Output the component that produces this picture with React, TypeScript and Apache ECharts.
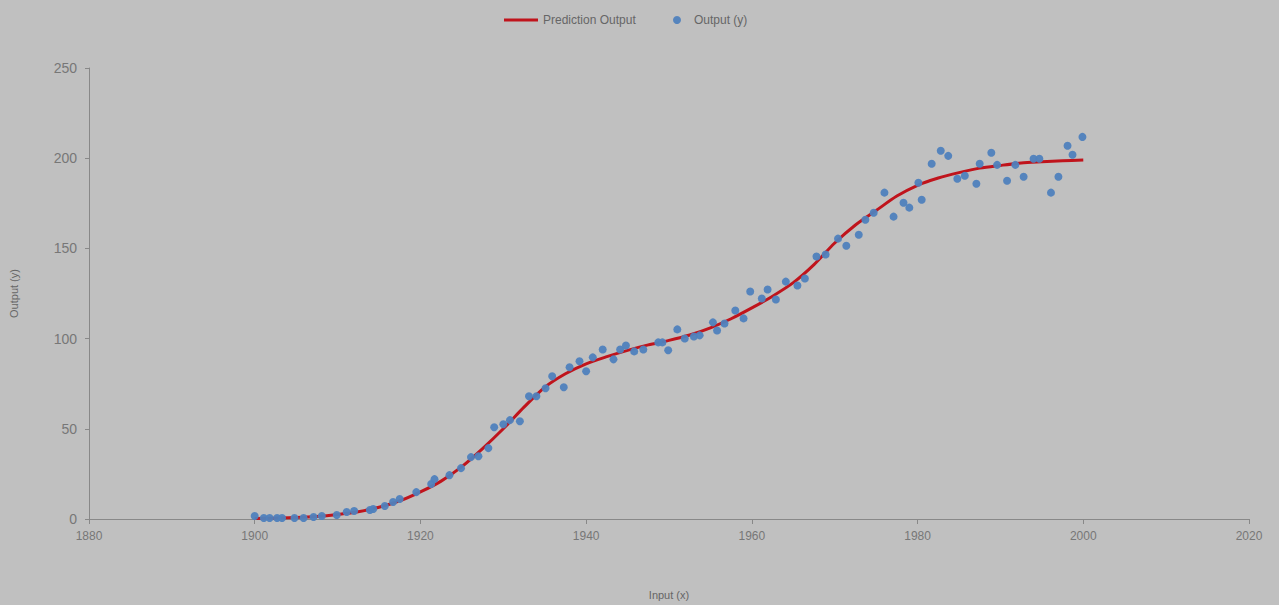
import React, { useEffect, useRef } from "react";
import * as echarts from "echarts";

const obsYears = [
  1900.0, 1901.1, 1901.8, 1902.7, 1903.3, 1904.8, 1905.9, 1907.1, 1908.1, 1909.9,
  1911.1, 1912.0, 1913.9, 1914.3, 1915.7, 1916.7, 1917.5, 1919.5, 1921.3, 1921.7,
  1923.5, 1924.9, 1926.1, 1927.0, 1928.2, 1928.9, 1930.0, 1930.8, 1932.0, 1933.1,
  1934.0, 1935.1, 1935.9, 1937.3, 1938.0, 1939.2, 1940.0, 1940.8, 1942.0, 1943.3,
  1944.1, 1944.8, 1945.8, 1946.9, 1948.7, 1949.2, 1949.9, 1951.0, 1951.9, 1953.0,
  1953.7, 1955.3, 1955.8, 1956.7, 1958.0, 1959.0, 1959.8, 1961.2, 1961.9, 1962.9,
  1964.1, 1965.5, 1966.4, 1967.8, 1968.9, 1970.4, 1971.4, 1972.9, 1973.7, 1974.7,
  1976.0, 1977.1, 1978.3, 1979.0, 1980.1, 1980.5, 1981.7, 1982.8, 1983.7, 1984.8,
  1985.7, 1987.1, 1987.5, 1988.9, 1989.6, 1990.8, 1991.8, 1992.8, 1994.0, 1994.7,
  1996.1, 1997.0, 1998.1, 1998.7, 1999.9,
];
const obsValues = [
  1.7, 0.6, 0.6, 0.6, 0.6, 0.6, 0.6, 1.1, 1.7, 2.2,
  3.9, 4.4, 5.0, 5.5, 7.2, 9.4, 11.1, 14.9, 19.4, 22.1,
  24.3, 28.2, 34.3, 34.8, 39.3, 50.9, 52.5, 54.8, 54.2, 68.0,
  68.0, 72.5, 79.1, 73.0, 84.1, 87.4, 81.9, 89.6, 94.0, 88.5,
  94.0, 96.2, 92.9, 94.0, 97.9, 97.9, 93.5, 105.1, 100.1, 101.2,
  101.8, 109.0, 104.5, 108.4, 115.6, 111.2, 126.1, 122.2, 127.2, 121.7,
  131.6, 129.4, 133.3, 145.5, 146.6, 155.4, 151.5, 157.6, 165.9, 169.8,
  180.9, 167.6, 175.3, 172.6, 186.4, 177.0, 196.9, 204.1, 201.3, 188.6,
  190.3, 185.8, 196.9, 203.0, 196.3, 187.5, 196.3, 189.7, 199.7, 199.7,
  180.9, 189.7, 206.9, 201.9, 211.8,
];

const fitYears = [
  1900, 1902.5, 1905, 1907.5, 1910, 1912.5, 1915, 1917.5, 1920, 1922.5,
  1925, 1927.5, 1930, 1932.5, 1935, 1937.5, 1940, 1942.5, 1945, 1947.5,
  1950, 1952.5, 1955, 1957.5, 1960, 1962.5, 1965, 1967.5, 1970, 1972.5,
  1975, 1977.5, 1980, 1982.5, 1985, 1987.5, 1990, 1992.5, 1995, 1997.5, 2000,
];
const fitValues = [
  0.3, 0.5, 0.8, 1.4, 2.5, 4.0, 6.5, 10, 15, 21,
  29, 39, 50, 62, 73, 80.5, 86, 90, 93.5, 96.5,
  99, 102, 106, 111, 117, 123.5, 131, 141, 153, 163,
  171, 179, 185, 189, 192, 194.5, 196, 197.3, 198, 198.6, 199,
];

const xTicks = [1880, 1900, 1920, 1940, 1960, 1980, 2000, 2020];
const yTicks = [0, 50, 100, 150, 200, 250];

const FONT = "'Liberation Sans Narrow', 'Liberation Sans', sans-serif";

export default function App() {
  const ref = useRef<HTMLDivElement>(null);
  useEffect(() => {
    if (!ref.current) return;
    const chart = echarts.init(ref.current, undefined, { renderer: "svg" });
    chart.setOption({
      animation: false,
      backgroundColor: "#c0c0c0",
      textStyle: { fontFamily: FONT },
      grid: { left: 83, right: 30, top: 68, bottom: 79 },
      legend: [
        {
          data: [{ name: "Prediction Output", icon: "rect" }],
          left: 499,
          top: 8,
          itemWidth: 34,
          itemHeight: 3,
          textStyle: { color: "#666", fontSize: 12, fontFamily: FONT, lineHeight: 14 },
        },
        {
          data: [{ name: "Output (y)", icon: "circle" }],
          left: 668,
          top: 8,
          itemWidth: 24,
          itemHeight: 8,
          textStyle: { color: "#666", fontSize: 12, fontFamily: FONT, lineHeight: 14 },
        },
      ],
      xAxis: {
        type: "value",
        min: xTicks[0],
        max: xTicks[xTicks.length - 1],
        interval: 20,
        name: "Input (x)",
        nameLocation: "middle",
        nameGap: 70,
        nameTextStyle: { color: "#666", fontSize: 11, fontFamily: FONT },
        axisLine: { show: true, onZero: false, lineStyle: { color: "#888", width: 1 } },
        axisTick: { show: true, length: 5, lineStyle: { color: "#888" } },
        axisLabel: {
          color: "#777",
          fontSize: 12,
          margin: 11,
          fontFamily: FONT,
          formatter: (v: number) => String(v),
        },
        splitLine: { show: false },
      },
      yAxis: {
        type: "value",
        min: yTicks[0],
        max: yTicks[yTicks.length - 1],
        interval: 50,
        name: "Output (y)",
        nameLocation: "middle",
        nameGap: 70,
        nameRotate: 90,
        nameTextStyle: { color: "#666", fontSize: 11, fontFamily: FONT },
        axisLine: { show: true, lineStyle: { color: "#888", width: 1 } },
        axisTick: { show: true, length: 4, lineStyle: { color: "#888" } },
        axisLabel: { color: "#777", fontSize: 14, margin: 12, fontFamily: FONT },
        splitLine: { show: false },
      },
      series: [
        {
          name: "Prediction Output",
          type: "line",
          data: fitYears.map((x, i) => [x, fitValues[i]]),
          smooth: 0.3,
          showSymbol: false,
          symbol: "none",
          lineStyle: { color: "#c0141c", width: 3 },
          itemStyle: { color: "#c0141c" },
          z: 2,
        },
        {
          name: "Output (y)",
          type: "scatter",
          data: obsYears.map((x, i) => [x, obsValues[i]]),
          symbol: "circle",
          symbolSize: 8,
          itemStyle: { color: "#4f81bd", opacity: 0.95 },
          z: 3,
        },
      ],
    });
    return () => chart.dispose();
  }, []);
  return (
    <div
      ref={ref}
      style={{ position: "fixed", left: 0, top: 0, width: 1279, height: 605 }}
    />
  );
}
